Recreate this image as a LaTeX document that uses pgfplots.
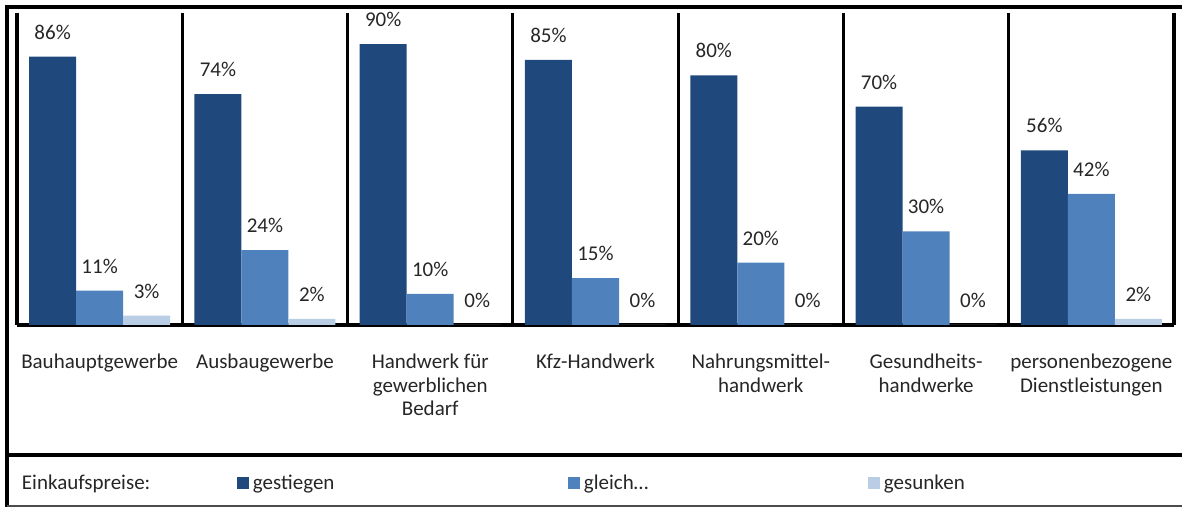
\documentclass[border=0pt]{standalone}
\usepackage{pgfplots}
\pgfplotsset{compat=1.18}
\usepackage{fontspec}
\setmainfont{Carlito}
\definecolor{cDark}{RGB}{31,73,125}
\definecolor{cMid}{RGB}{79,129,189}
\definecolor{cLight}{RGB}{185,205,229}
\definecolor{txt}{RGB}{38,38,38}
\newcommand{\lblfont}{\fontsize{10.5}{11.8}\selectfont}
\begin{document}
\begin{tikzpicture}
\useasboundingbox (0pt,0pt) rectangle (591pt,253.5pt);
\begin{axis}[
  at={(8.5pt,91pt)}, anchor=south west,
  scale only axis, width=578.5pt, height=156pt,
  xmin=-0.5, xmax=6.5, ymin=0, ymax=100,
  ybar=0pt, bar width=23.5pt,
  axis x line*=bottom, axis y line=none,
  x axis line style={-, line width=1.6pt, black},
  xtick={0,1,2,3,4,5,6},
  xtick style={draw=none},
  xticklabels={Bauhauptgewerbe, Ausbaugewerbe, {Handwerk für\\gewerblichen\\Bedarf}, Kfz-Handwerk, {Nahrungsmittel-\\handwerk}, {Gesundheits-\\handwerke}, {personenbezogene\\Dienstleistungen}},
  xticklabel style={align=center, font=\lblfont, text=txt, anchor=north, inner sep=0pt, yshift=-10pt},
  extra x ticks={-0.5,0.5,1.5,2.5,3.5,4.5,5.5,6.5},
  extra x tick labels={},
  extra x tick style={grid=major, major grid style={black, line width=1.6pt}, tick style={black, line width=1.6pt}, major tick length=3pt, tick align=outside},
  ytick=\empty,
  /pgf/number format/assume math mode=true,
  nodes near coords={\pgfmathprintnumber{\pgfplotspointmeta}\%},
  every node near coord/.append style={font=\lblfont, text=txt, inner sep=0pt, yshift=8.5pt},
  legend columns=-1,
  legend style={draw=none, fill=none, at={(axis description cs:0.00432,-0.508)}, anchor=west, inner sep=0pt, outer sep=0pt, column sep=0pt, font=\lblfont, text=txt, nodes={inner sep=0pt, anchor=west}},
  legend image code/.code={\fill[#1] (0pt,-3pt) rectangle (6pt,3pt); \path (8pt,0pt);},
]
\addlegendimage{empty legend}
\addlegendentry[text width=107.5pt, align=left]{Einkaufspreise:}
\addplot[fill=cDark, draw=none] coordinates {(0,86) (1,74) (2,90) (3,85) (4,80) (5,70) (6,56)};
\addlegendentry[text width=157.5pt, align=left]{gestiegen}
\addplot[fill=cMid, draw=none] coordinates {(0,11) (1,24) (2,10) (3,15) (4,20) (5,30) (6,42)};
\addlegendentry[text width=142pt, align=left]{gleich…}
\addplot[fill=cLight, draw=none] coordinates {(0,3) (1,2) (2,0) (3,0) (4,0) (5,0) (6,2)};
\addlegendentry{gesunken}
\end{axis}
\draw[line width=2pt, black] (2.5pt,250pt) -- (591pt,250pt);
\draw[line width=2pt, black] (3.5pt,251pt) -- (3.5pt,0pt);
\draw[line width=2pt, black] (3.5pt,25.75pt) -- (591pt,25.75pt);
\draw[line width=0.8pt, black!70] (3.5pt,0.6pt) -- (591pt,0.6pt);
\end{tikzpicture}
\end{document}
